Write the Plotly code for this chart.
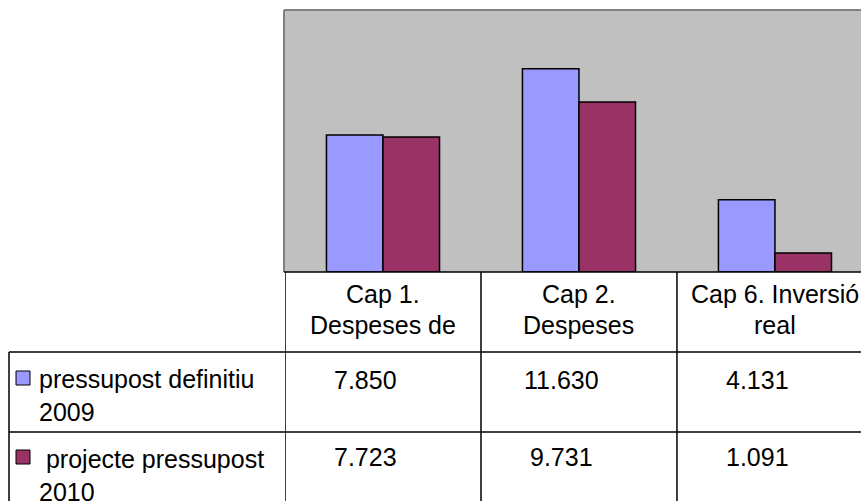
import plotly.graph_objects as go

# ---- data ----
categories = ["Cap 1. Despeses de", "Cap 2. Despeses", "Cap 6. Inversió real"]
header_line1 = ["Cap 1.", "Cap 2.", "Cap 6. Inversió"]
header_line2 = ["Despeses de", "Despeses", "real"]
series_names = ["pressupost definitiu 2009", "projecte pressupost 2010"]
label_line1 = ["pressupost definitiu", " projecte pressupost"]
label_line2 = ["2009", "2010"]
values_2009 = [7850, 11630, 4131]
values_2010 = [7723, 9731, 1091]
colors = ["#9999FF", "#993366"]

W, H = 861, 501
FONT = "Liberation Sans, Arial, sans-serif"
FS = 25


def px(x):
    return x / W


def py(y):
    return 1 - y / H


def fmt(v):
    return f"{v:,}".replace(",", ".")


fig = go.Figure()
for name, vals, col in zip(series_names, [values_2009, values_2010], colors):
    fig.add_trace(go.Bar(
        x=list(range(len(categories))), y=vals, name=name,
        marker=dict(color=col, line=dict(color="black", width=1.5)),
        hoverinfo="skip",
    ))

shapes = []
line = dict(color="black", width=1.5)
# plot area gray border (top + left)
shapes.append(dict(type="line", xref="paper", yref="paper", x0=px(284), x1=1, y0=py(10), y1=py(10),
                   line=dict(color="#808080", width=2)))
shapes.append(dict(type="line", xref="paper", yref="paper", x0=px(284), x1=px(284), y0=py(10), y1=py(272),
                   line=dict(color="#808080", width=2)))
# table horizontal lines
shapes.append(dict(type="line", xref="paper", yref="paper", x0=px(284), x1=1, y0=py(272), y1=py(272), line=line))
for yy in [352, 432]:
    shapes.append(dict(type="line", xref="paper", yref="paper", x0=px(9), x1=1, y0=py(yy), y1=py(yy), line=line))
# table vertical lines at category boundaries
for b in [-0.5, 0.5, 1.5]:
    shapes.append(dict(type="line", xref="x", yref="paper", x0=b, x1=b, y0=py(272), y1=0, line=line))
shapes.append(dict(type="line", xref="paper", yref="paper", x0=px(9), x1=px(9), y0=py(352), y1=0, line=line))
# legend keys
for col, top in zip(colors, [371, 450]):
    shapes.append(dict(type="rect", xref="paper", yref="paper", x0=px(16), x1=px(30), y0=py(top), y1=py(top + 14),
                       fillcolor=col, line=dict(color="black", width=1)))

ann = []
font = dict(family=FONT, size=FS, color="black")
for i in range(len(categories)):
    ann.append(dict(xref="x", yref="paper", x=i, y=py(294.4), text=header_line1[i], showarrow=False,
                    xanchor="center", yanchor="middle", font=font))
    ann.append(dict(xref="x", yref="paper", x=i, y=py(324.7), text=header_line2[i], showarrow=False,
                    xanchor="center", yanchor="middle", font=font))
    ann.append(dict(xref="x", yref="paper", x=i, xshift=-17, y=py(380), text=fmt(values_2009[i]), showarrow=False,
                    xanchor="center", yanchor="middle", font=font))
    ann.append(dict(xref="x", yref="paper", x=i, xshift=-17, y=py(457), text=fmt(values_2010[i]), showarrow=False,
                    xanchor="center", yanchor="middle", font=font))
for j, (l1, l2) in enumerate(zip(label_line1, label_line2)):
    base = 352 + j * 80
    txt = ("&nbsp;" + l1[1:]) if l1.startswith(" ") else l1
    ann.append(dict(xref="paper", yref="paper", x=px(37), y=py(base + 27), text=txt,
                    showarrow=False, xanchor="left", yanchor="middle", font=font))
    ann.append(dict(xref="paper", yref="paper", x=px(37), y=py(base + 60), text=l2, showarrow=False,
                    xanchor="left", yanchor="middle", font=font))

fig.update_layout(
    width=W, height=H,
    margin=dict(l=0, r=0, t=0, b=0, pad=0),
    paper_bgcolor="white",
    plot_bgcolor="#C0C0C0",
    barmode="group", bargap=0.423, bargroupgap=0,
    showlegend=False,
    xaxis=dict(domain=[px(285), 1], range=[-0.5, 2.439], showticklabels=False, showgrid=False,
               zeroline=False, showline=False, ticks=""),
    yaxis=dict(domain=[py(272), py(10)], range=[0, 15000], showticklabels=False, showgrid=False,
               zeroline=False, showline=False, ticks=""),
    shapes=shapes, annotations=ann,
    font=dict(family=FONT),
)

fig.write_html("out.html", config={"displayModeBar": False},
               post_script="document.body.style.margin='0px';document.body.style.overflow='hidden';")
